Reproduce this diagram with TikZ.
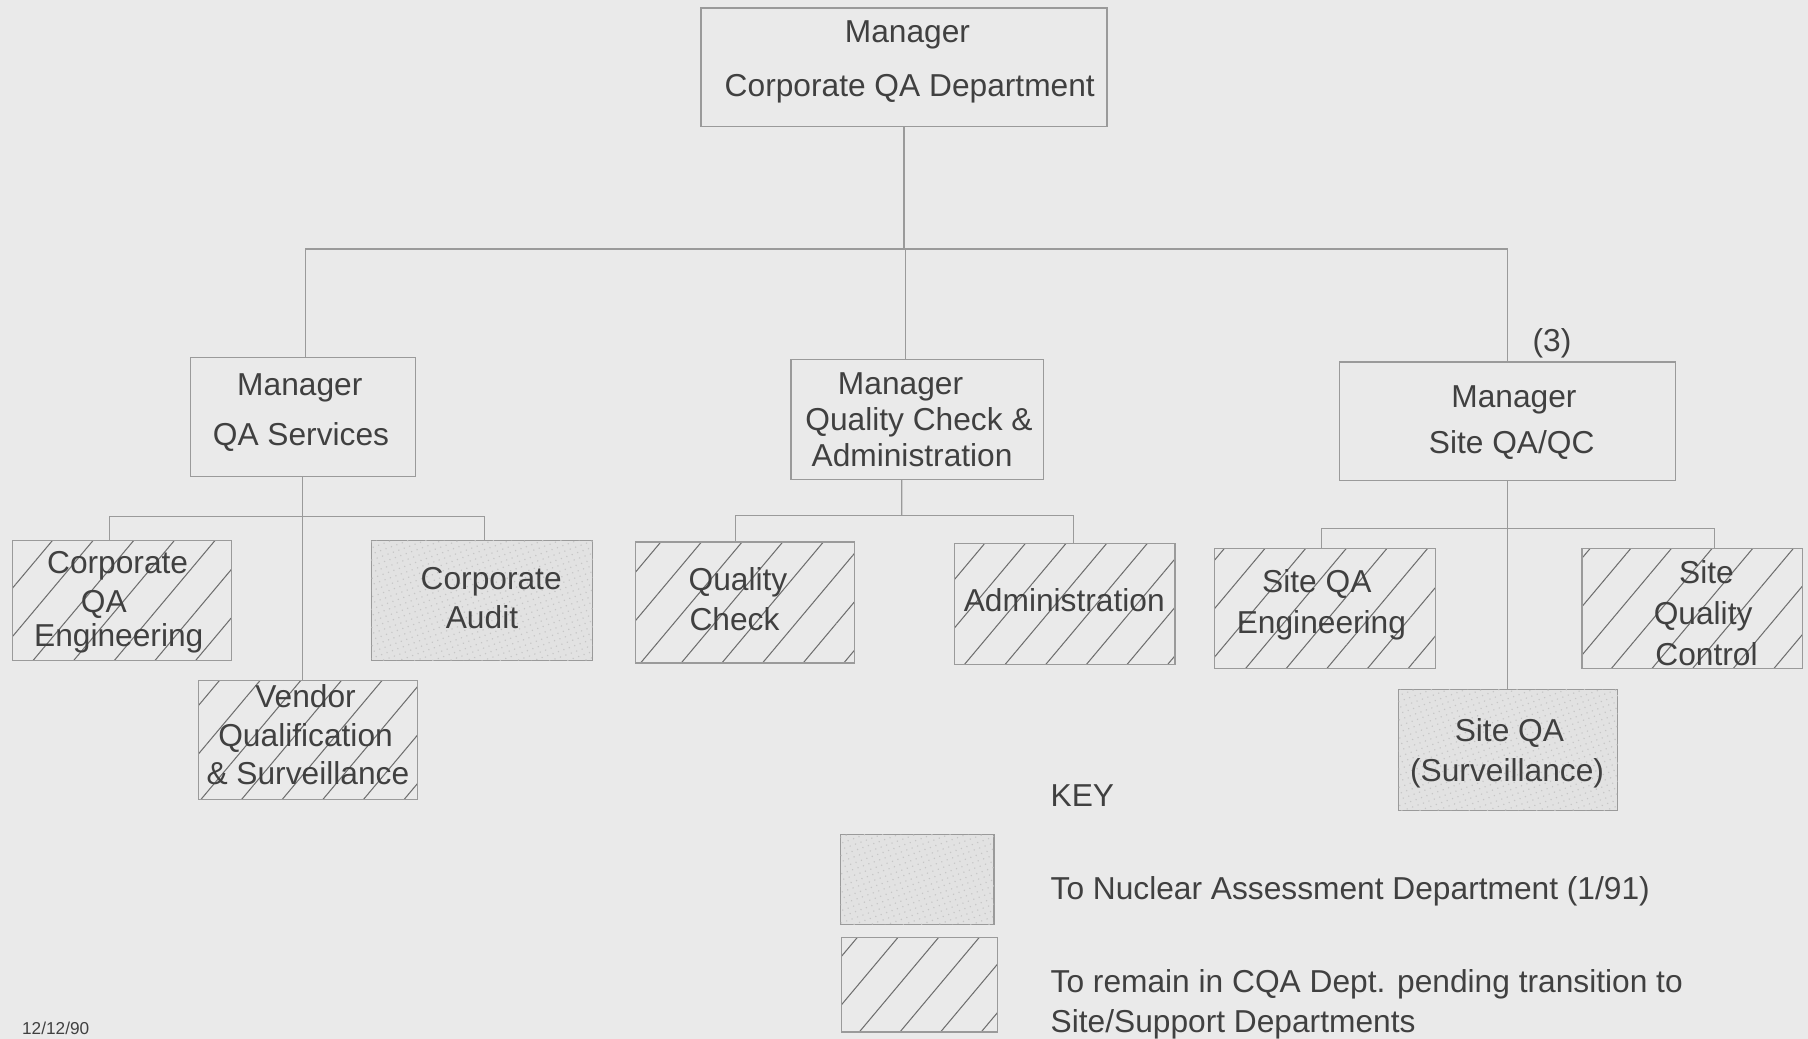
\documentclass[tikz,border=0pt]{standalone}
\usepackage{fontspec}
\setmainfont{Liberation Sans}
\usetikzlibrary{patterns.meta}

\definecolor{paper}{HTML}{EAEAEA}
\definecolor{ink}{HTML}{404040}
\definecolor{rule}{HTML}{9A9A9A}
\definecolor{hatch}{HTML}{6E6E6E}
\definecolor{stip}{HTML}{E2E2E2}
\definecolor{stipdot}{HTML}{C6C6C6}

\tikzset{
  unit/.style={rectangle, draw=rule, line width=1bp, inner sep=0pt, outer sep=0pt, anchor=north west},
  plainbox/.style={unit},
  hatched/.style={unit, pattern={Lines[angle=50, distance=27bp, line width=0.9bp]}, pattern color=hatch},
  stippled/.style={unit, fill=stip, postaction={pattern={Dots[radius=0.7bp, distance=5bp, angle=20]}, pattern color=stipdot}},
  wire/.style={draw=rule, line width=1bp},
  lbl/.style={anchor=base, inner sep=0pt, text=ink, font=\fontsize{27.6}{32}\selectfont},
  keylbl/.style={lbl, anchor=base west},
}

% one line of text, placed by its visual centre
\newcommand\tline[4]{\node[lbl] (#1) at (#2,#3+9) {#4};}

\begin{document}
\begin{tikzpicture}[x=1bp, y=-1bp]
\fill[paper] (0,0) rectangle (1568,901);
\useasboundingbox (0,0) rectangle (1568,901);

% ---- boxes ----
\node[plainbox, minimum width=352bp, minimum height=103bp] (top)  at (608,7)   {};
\node[plainbox, minimum width=195bp, minimum height=103bp] (qas)  at (165,310) {};
\node[plainbox, minimum width=219bp, minimum height=104bp] (qca)  at (686,312) {};
\node[plainbox, minimum width=291bp, minimum height=103bp] (site) at (1162,314) {};

\node[hatched,  minimum width=190bp, minimum height=104bp] (cqae) at (11,469)  {};
\node[stippled, minimum width=192bp, minimum height=104bp] (caud) at (322,469) {};
\node[hatched,  minimum width=190bp, minimum height=103bp] (vend) at (172,590) {};

\node[hatched,  minimum width=190bp, minimum height=105bp] (qchk) at (551,470) {};
\node[hatched,  minimum width=191bp, minimum height=105bp] (adm)  at (828,471) {};

\node[hatched,  minimum width=192bp, minimum height=104bp] (sqae) at (1053,476) {};
\node[hatched,  minimum width=191bp, minimum height=104bp] (sqc)  at (1372,476) {};
\node[stippled, minimum width=190bp, minimum height=105bp] (sqas) at (1213,598) {};

\node[stippled, minimum width=133bp, minimum height=78bp] (key1) at (729,724) {};
\node[hatched,  minimum width=135bp, minimum height=82bp] (key2) at (730,813) {};

% ---- connectors ----
\coordinate (busTop)  at (785,216);
\coordinate (busQas)  at (262.5,448);
\coordinate (busQca)  at (782,447);
\coordinate (busSite) at (1307.5,458);

\draw[wire] (top.south) -- (top.south |- busTop);
\draw[wire] ([xshift=2.5]qas.north) |- (busTop) -| (site.north);
\draw[wire] (busTop) -- (busTop |- qca.north);

\draw[wire] (qas.south) -- (qas.south |- vend.north);
\draw[wire] ([xshift=-11]cqae.north) |- (busQas) -| ([xshift=2]caud.north);

\draw[wire] ([xshift=-13.5]qca.south) -- (busQca);
\draw[wire] ([xshift=-8]qchk.north) |- (busQca) -| ([xshift=7.5]adm.north);

\draw[wire] (site.south) -- (site.south |- sqas.north);
\draw[wire] ([xshift=-3]sqae.north) |- (busSite) -| ([xshift=19.5]sqc.north);

% ---- labels ----
\tline{top1}{787}{28}{Manager}
\tline{top2}{789}{75}{Corporate QA Department}

\tline{qas1}{260}{334}{Manager}
\tline{qas2}{261}{377}{QA Services}

\tline{qca1}{781}{333}{Manager}
\tline{qca2}{797}{364}{Quality Check \&}
\tline{qca3}{791}{396}{Administration}

\tline{site0}{1346}{296}{(3)}
\tline{site1}{1313}{344}{Manager}
\tline{site2}{1311}{384}{Site QA/QC}

\tline{cqae1}{102}{488}{Corporate}
\tline{cqae2}{90}{522}{QA}
\tline{cqae3}{103}{552}{Engineering}

\tline{caud1}{426}{502}{Corporate}
\tline{caud2}{418}{536}{Audit}

\tline{vend1}{265}{605}{Vendor}
\tline{vend2}{265}{638}{Qualification}
\tline{vend3}{267}{671}{\& Surveillance}

\tline{qchk1}{640}{503}{Quality}
\tline{qchk2}{637}{538}{Check}

\tline{adm1}{923}{521}{Administration}

\tline{sqae1}{1142}{505}{Site QA}
\tline{sqae2}{1146}{540}{Engineering}

\tline{sqc1}{1480}{497}{Site}
\tline{sqc2}{1477}{533}{Quality}
\tline{sqc3}{1480}{568}{Control}

\tline{sqas1}{1309}{634}{Site QA}
\tline{sqas2}{1307}{669}{(Surveillance)}

% ---- key ----
\node[keylbl] (keyhead) at (911,699) {KEY};
\node[keylbl] (keyt1) at (911,780) {To Nuclear Assessment Department (1/91)};
\node[keylbl] (keyt2) at (911,861) {To remain in CQA Dept. pending transition to};
\node[keylbl] (keyt3) at (911,895) {Site/Support Departments};

% ---- date stamp ----
\node[anchor=base west, inner sep=0pt, text=ink, font=\fontsize{15}{18}\selectfont] (date) at (19,897) {12/12/90};
\end{tikzpicture}
\end{document}
